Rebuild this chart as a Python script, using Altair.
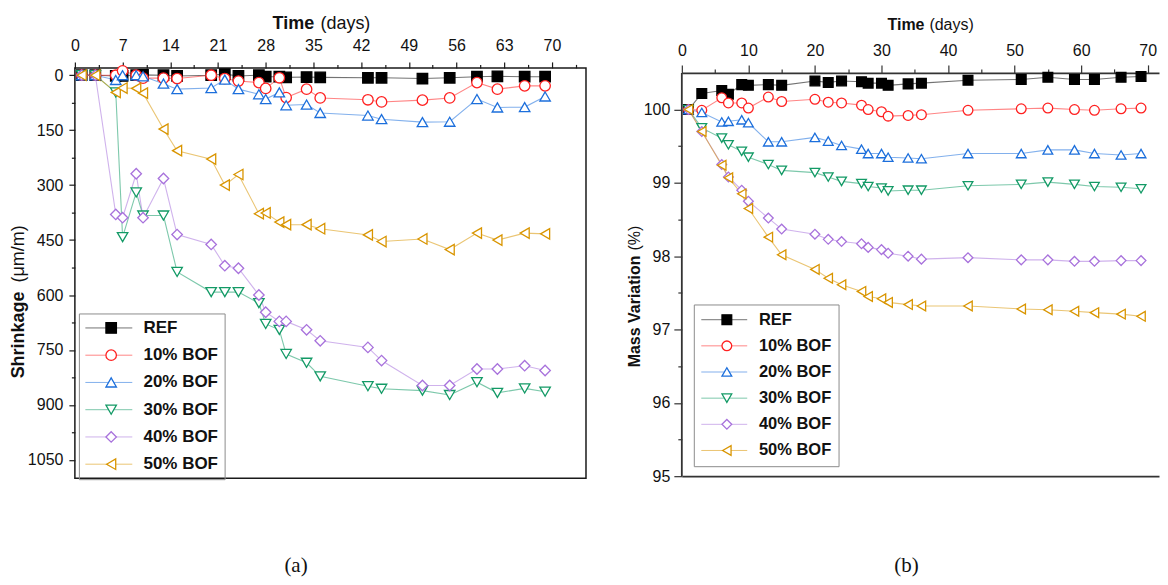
import math
import altair as alt
import pandas as pd

FONT = "Liberation Sans"
SERIF = "Liberation Serif"

SERIES = ["REF", "10% BOF", "20% BOF", "30% BOF", "40% BOF", "50% BOF"]
COLORS = ["#000000", "#ff2020", "#1c6fdc", "#139a66", "#a872dc", "#d99500"]
FILLS = ["#000000", "#ffffff", "#ffffff", "#ffffff", "#ffffff", "#ffffff"]
SHAPES = ["square", "circle", "triangle-up", "triangle-down", "diamond", "triangle-left"]

# ---- (a) shrinkage, um/m ----
SHR_DAYS = [1, 3, 6, 7, 9, 10, 13, 15, 20, 22, 24, 27, 28, 30, 31, 34, 36, 43, 45, 51, 55, 59, 62, 66, 69]
SHR_REF = [0, 0, 2, 2, 0, -1, 0, 2, 0, -3, 2, 0, 4, 4, 6, 5, 6, 7, 7, 9, 7, 4, 3, 4, 4]
SHR_10 = [0, 0, 0, -12, 0, 8, 8, 9, 0, 9, 16, 20, 36, 7, 61, 38, 62, 67, 73, 68, 62, 20, 38, 29, 29]
SHR_20 = [0, 0, 13, 0, 0, 3, 23, 38, 35, 12, 38, 52, 65, 47, 82, 80, 103, 110, 120, 128, 127, 65, 88, 87, 58]
SHR_30 = [0, 0, 47, 442, 320, 383, 383, 537, 592, 592, 592, 622, 679, 695, 761, 785, 822, 849, 856, 861, 873, 838, 867, 855, 864]
SHR_40 = [0, 0, 380, 389, 269, 389, 282, 435, 462, 520, 527, 600, 647, 672, 672, 695, 725, 743, 779, 847, 847, 802, 802, 793, 806]
SHR_50 = [0, 0, 47, 35, 36, 49, 147, 206, 229, 300, 271, 378, 376, 401, 408, 408, 419, 436, 454, 447, 476, 431, 450, 431, 433]

SHR_XTICKS = [0, 7, 14, 21, 28, 35, 42, 49, 56, 63, 70]
SHR_XMINOR = [3.5, 10.5, 17.5, 24.5, 31.5, 38.5, 45.5, 52.5, 59.5, 66.5, 73.5]
SHR_YTICKS = [0, 150, 300, 450, 600, 750, 900, 1050]
SHR_YMINOR = [75, 225, 375, 525, 675, 825, 975]

# ---- (b) mass variation, % ----
MASS_DAYS = [1, 3, 6, 7, 9, 10, 13, 15, 20, 22, 24, 27, 28, 30, 31, 34, 36, 43, 51, 55, 59, 62, 66, 69]
MASS_REF = [100.0, 100.22, 100.26, 100.21, 100.34, 100.33, 100.34, 100.33, 100.39, 100.37, 100.39, 100.38, 100.36, 100.36, 100.33, 100.35, 100.36, 100.40, 100.41, 100.44, 100.41, 100.41, 100.44, 100.45]
MASS_10 = [100.0, 99.99, 100.16, 100.09, 100.09, 100.02, 100.17, 100.11, 100.14, 100.10, 100.09, 100.06, 100.0, 99.97, 99.91, 99.92, 99.93, 99.99, 100.01, 100.02, 100.0, 99.99, 100.01, 100.02]
MASS_20 = [100.0, 99.96, 99.83, 99.84, 99.86, 99.82, 99.56, 99.56, 99.62, 99.57, 99.51, 99.46, 99.40, 99.40, 99.35, 99.34, 99.33, 99.40, 99.40, 99.45, 99.45, 99.40, 99.38, 99.40]
MASS_30 = [100.0, 99.75, 99.61, 99.52, 99.43, 99.35, 99.25, 99.17, 99.14, 99.08, 99.02, 98.99, 98.95, 98.93, 98.89, 98.90, 98.90, 98.96, 98.98, 99.01, 98.98, 98.95, 98.94, 98.92]
MASS_40 = [100.0, 99.70, 99.25, 99.08, 98.90, 98.75, 98.52, 98.37, 98.30, 98.23, 98.20, 98.17, 98.12, 98.09, 98.04, 98.00, 97.96, 97.98, 97.95, 97.95, 97.93, 97.93, 97.94, 97.94]
MASS_50 = [100.0, 99.70, 99.24, 99.07, 98.85, 98.65, 98.26, 98.02, 97.82, 97.70, 97.61, 97.52, 97.45, 97.42, 97.37, 97.34, 97.32, 97.32, 97.28, 97.27, 97.25, 97.23, 97.21, 97.18]

MASS_XTICKS = [0, 10, 20, 30, 40, 50, 60, 70]
MASS_XMINOR = [5, 15, 25, 35, 45, 55, 65]
MASS_YTICKS = [95, 96, 97, 98, 99, 100]
MASS_YMINOR = [95.5, 96.5, 97.5, 98.5, 99.5]


def long_df(days, groups):
    rows = []
    for name, vals in zip(SERIES, groups):
        for d, v in zip(days, vals):
            rows.append({"day": d, "value": v, "series": name})
    return pd.DataFrame(rows)


def txt(text, x, y, size, weight="normal", angle=0, align="left", font=FONT):
    return alt.Chart(alt.Data(values=[{"t": text}])).mark_text(
        align=align, baseline="middle", font=font, fontSize=size,
        fontWeight=weight, angle=angle, color="#111111"
    ).encode(text="t:N", x=alt.value(x), y=alt.value(y))


def panel(df, cfg):
    xs = alt.Scale(domain=cfg["xdom"], nice=False, zero=False)
    ys = alt.Scale(domain=cfg["ydom"], nice=False, zero=False, reverse=cfg["yrev"])
    ac = cfg["axis_color"]
    base_axis = dict(labelFont=FONT, labelFontSize=cfg["lab_size"], labelColor="#111111",
                     tickColor=ac, tickWidth=1.2, domainColor=ac, domainWidth=cfg["axis_w"],
                     grid=False, title=None, labelFlush=False, labelOverlap=False)
    x_major = alt.Axis(orient="top", values=cfg["xticks"], tickSize=cfg["tmaj"], format="d",
                       labelPadding=cfg["xlabpad"], domain=cfg["xdomain_line"],
                       offset=cfg["top_off"], **base_axis)
    y_major = alt.Axis(orient="left", values=cfg["yticks"], tickSize=cfg["tmaj"], format="d",
                       labelPadding=cfg["ylabpad"], domain=False, **base_axis)
    x_minor = alt.Axis(orient="top", values=cfg["xminor"], tickSize=cfg["tmin"], labels=False,
                       domain=False, offset=cfg["top_off"], **base_axis)
    y_minor = alt.Axis(orient="left", values=cfg["yminor"], tickSize=cfg["tmin"], labels=False,
                       domain=False, **base_axis)

    L = cfg["leg_len"]
    lw = math.ceil(L) + 1
    psz = cfg["pt_size"]
    pw = math.ceil(math.sqrt(psz)) + 1.3
    shift = (lw - pw) / 2
    common_leg = dict(orient="none", title=None, labelFont=FONT, labelFontSize=cfg["leg_font"],
                      labelFontWeight="bold", labelColor="#111111", rowPadding=cfg["leg_rowpad"],
                      clipHeight=cfg["leg_clip"], padding=cfg["leg_pad"], labelLimit=0,
                      legendX=cfg["leg_x"], legendY=cfg["leg_y"])
    # legend of the connecting lines: strokes only, no labels
    line_leg = alt.Legend(symbolType="stroke", symbolSize=L * L, symbolStrokeWidth=1,
                          symbolOpacity=0.55, labelExpr="''", labelOffset=6, **common_leg)
    # legend of the markers: shapes + labels + frame, markers centred on the strokes
    pt_leg = alt.Legend(symbolSize=psz, symbolStrokeWidth=1.3, symbolOpacity=1,
                        symbolOffset=shift, labelOffset=6 + shift,
                        strokeColor="#8c8c8c", **common_leg)

    lines = alt.Chart(df).mark_line(strokeWidth=1.1, opacity=0.55).encode(
        x=alt.X("day:Q", scale=xs, axis=x_major),
        y=alt.Y("value:Q", scale=ys, axis=y_major),
        color=alt.Color("series:N", sort=SERIES, scale=alt.Scale(range=COLORS), legend=line_leg),
        order="day:Q",
    )
    points = alt.Chart(df).mark_point(filled=True, size=psz, strokeWidth=1.3, opacity=1).encode(
        x=alt.X("day:Q", scale=xs, axis=None),
        y=alt.Y("value:Q", scale=ys, axis=None),
        shape=alt.Shape("series:N", scale=alt.Scale(domain=SERIES, range=SHAPES), legend=pt_leg),
        stroke=alt.Stroke("series:N", scale=alt.Scale(domain=SERIES, range=COLORS), legend=pt_leg),
        fill=alt.Fill("series:N", scale=alt.Scale(domain=SERIES, range=FILLS), legend=pt_leg),
    )
    minor = alt.Chart(df).mark_point(opacity=0).encode(
        x=alt.X("day:Q", scale=xs, axis=x_minor),
        y=alt.Y("value:Q", scale=ys, axis=y_minor),
    )
    layers = [lines, points, minor]
    if cfg.get("bottom_line"):
        bottom = alt.Chart(df).mark_point(opacity=0).encode(
            x=alt.X("day:Q", scale=xs, axis=alt.Axis(orient="bottom", labels=False, ticks=False,
                                                     domain=True, domainColor=ac,
                                                     domainWidth=cfg["axis_w"], grid=False, title=None)),
            y=alt.Y("value:Q", scale=ys, axis=None),
        )
        yline = alt.Chart(alt.Data(values=[{"x": cfg["xdom"][0], "y": cfg["yline"][0], "y2": cfg["yline"][1]}])).mark_rule(
            color=ac, strokeWidth=cfg["axis_w"]).encode(
            x=alt.X("x:Q", scale=xs, axis=None),
            y=alt.Y("y:Q", scale=ys, axis=None),
            y2="y2:Q",
        )
        layers += [bottom, yline]
    for t in cfg["texts"]:
        layers.append(txt(*t))
    ch = alt.layer(*layers).resolve_axis(x="independent", y="independent").properties(
        width=cfg["w"], height=cfg["h"], view=cfg["view"])
    return ch


df_a = long_df(SHR_DAYS, [SHR_REF, SHR_10, SHR_20, SHR_30, SHR_40, SHR_50])
df_b = long_df(MASS_DAYS, [MASS_REF, MASS_10, MASS_20, MASS_30, MASS_40, MASS_50])

H_B = 409
PX_B = (H_B - 5) / 5.5
cfg_a = dict(
    xdom=[0, 75], ydom=[-20, 1100], yrev=True, w=512, h=411,
    xticks=SHR_XTICKS, xminor=SHR_XMINOR, yticks=SHR_YTICKS, yminor=SHR_YMINOR,
    tmaj=6, tmin=3.5, xlabpad=8, ylabpad=6, lab_size=16, axis_color="#1a1a1a", axis_w=1.5,
    xdomain_line=False, top_off=0,
    leg_len=47, pt_size=110, leg_font=17, leg_clip=17, leg_rowpad=9.3, leg_pad=6,
    leg_x=4, leg_y=246,
    view=alt.ViewBackground(stroke="#1a1a1a", strokeWidth=1.5),
    texts=[
        ("Time", 198, -43.5, 18, "bold"),
        ("(days)", 246, -43.5, 18, "normal"),
        ("Shrinkage", -56, 311, 18, "bold", 270),
        ("(μm/m)", -56, 215, 18, "normal", 270),
        ("(a)", 221.5, 499, 21, "normal", 0, "center", SERIF),
    ],
)
cfg_b = dict(
    xdom=[0, 71.7], ydom=[95, 100.5 + 5 / PX_B], yrev=False, w=478, h=H_B,
    xticks=MASS_XTICKS, xminor=MASS_XMINOR, yticks=MASS_YTICKS, yminor=MASS_YMINOR,
    tmaj=8, tmin=4, xlabpad=6, ylabpad=4, lab_size=16, axis_color="#333333", axis_w=1.8,
    xdomain_line=True, top_off=-5, bottom_line=True, yline=[95, 100.5],
    leg_len=46, pt_size=95, leg_font=16.5, leg_clip=16.5, leg_rowpad=9.2, leg_pad=7,
    leg_x=12, leg_y=237,
    view=alt.ViewBackground(stroke="transparent"),
    texts=[
        ("Time", 206, -43.4, 16, "bold"),
        ("(days)", 248, -43.4, 16, "normal"),
        ("Mass Variation", -47, 300, 16, "bold", 270),
        ("(%)", -47, 183, 16, "normal", 270),
        ("(b)", 225, 499, 21, "normal", 0, "center", SERIF),
    ],
)

chart = alt.hconcat(panel(df_a, cfg_a), panel(df_b, cfg_b), spacing=39).resolve_scale(
    color="independent", shape="independent", stroke="independent", fill="independent"
).properties(
    padding={"left": 1, "top": 5.5, "right": 0, "bottom": 0}
).configure_view(stroke="transparent").configure(background="white")

chart.save("out.html", embed_options={"renderer": "svg", "actions": False})
